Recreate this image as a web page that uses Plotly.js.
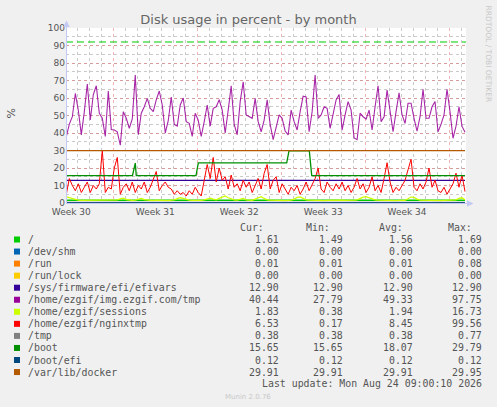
<!DOCTYPE html>
<html><head><meta charset="utf-8">
<script src="https://cdn.plot.ly/plotly-3.0.1.min.js"></script>
<style>html,body{margin:0;padding:0;background:#f0f0f0;}#chart{width:497px;height:407px;}</style>
</head><body><div id="chart"></div>
<script>
// ---------- data ----------
const seriesNames = ["/", "/dev/shm", "/run", "/run/lock", "/sys/firmware/efi/efivars",
  "/home/ezgif/img.ezgif.com/tmp", "/home/ezgif/sessions", "/home/ezgif/nginxtmp",
  "/tmp", "/boot", "/boot/efi", "/var/lib/docker"];
const seriesColors = ["#00CC00", "#0066B3", "#FF8000", "#FFCC00", "#330099", "#990099",
  "#CCFF00", "#FF0000", "#808080", "#008F00", "#00487D", "#B35A00"];
const curValues = [1.61, 0.00, 0.01, 0.00, 12.90, 40.44, 1.83, 6.53, 0.38, 15.65, 0.12, 29.91];
const minValues = [1.49, 0.00, 0.01, 0.00, 12.90, 27.79, 0.38, 0.17, 0.38, 15.65, 0.12, 29.91];
const avgValues = [1.56, 0.00, 0.01, 0.00, 12.90, 49.33, 1.94, 8.45, 0.38, 18.07, 0.12, 29.91];
const maxValues = [1.69, 0.00, 0.08, 0.00, 12.90, 97.75, 16.73, 99.56, 0.77, 29.79, 0.12, 29.95];

// 6-hourly samples starting 2026-07-23 02:00
const imgTmp = [37.9,45.1,49.3,62.6,53.0,38.9,52.2,68.0,47.4,62.0,67.0,51.3,48.4,38.0,64.0,42.0,41.7,40.7,33.0,52.2,
  48.4,42.7,48.0,73.1,39.0,51.3,55.0,59.8,54.1,52.2,58.9,64.0,56.0,40.0,47.0,60.6,44.9,43.9,56.0,60.0,
  46.5,45.5,38.1,51.3,47.4,38.0,46.5,56.0,43.9,54.1,55.0,59.0,53.1,40.0,53.1,67.0,44.9,39.0,57.9,69.3,
  50.3,49.3,48.4,59.8,46.5,40.7,47.4,58.9,44.9,36.2,43.9,50.3,48.4,41.1,38.9,53.1,46.5,41.7,52.2,61.0,
  60.6,40.7,52.2,73.1,48.4,50.3,55.0,54.1,42.7,50.3,58.9,62.0,41.7,50.3,57.9,53.1,37.2,36.2,51.3,49.3,
  48.0,53.1,41.7,55.0,67.0,46.5,49.3,64.5,52.2,40.7,52.2,63.0,50.3,45.5,57.0,57.0,48.4,41.0,49.3,65.0,
  48.4,48.4,55.0,58.0,40.7,44.9,50.3,65.0,52.2,37.0,43.9,55.0,43.9,40.4];
const nginxTmp = [5,14,10,7,11,6,9,12,6,10,8,11,30,6,9,8,20,26,5,9,
  11,7,12,6,10,8,12,6,9,13,18,7,10,12,9,8,5,7,5,6,
  4,7,5,9,6,4,14,22,14,26,12,20,13,15,8,16,9,11,7,13,
  9,12,6,10,14,8,17,22,8,13,15,6,11,8,5,9,7,10,5,8,
  12,7,11,14,20,8,6,12,9,7,11,8,12,7,10,6,9,14,8,11,
  6,9,15,7,10,6,14,23,12,6,9,7,10,13,19,25,9,7,11,8,
  12,20,9,13,7,6,9,5,8,11,17,9,16,6.53];
const sessions = [3.5,3.0,2.2,1.8,1.6,1.5,1.5,1.6,1.7,1.5,1.4,1.5,1.6,1.5,1.4,1.6,1.5,1.8,2.4,2.8,
  2.0,1.6,1.5,1.7,2.2,2.6,1.9,1.6,1.5,1.4,1.6,1.5,1.7,1.5,1.4,1.6,1.8,2.5,3.0,2.6,
  2.0,1.7,1.5,1.4,1.6,1.5,1.8,2.4,2.8,2.2,1.8,2.6,3.4,4.0,3.0,2.2,1.8,1.6,2.0,2.6,
  1.8,1.6,1.5,2.2,3.0,3.6,2.6,1.8,1.6,1.5,1.4,1.5,1.6,1.4,1.5,1.6,2.2,3.2,3.5,2.4,
  1.8,1.6,1.5,1.4,1.6,1.5,1.4,1.5,1.6,1.5,1.4,1.5,1.6,1.5,1.4,1.5,1.6,1.8,2.8,3.4,
  3.6,3.0,2.2,1.8,1.6,1.5,1.4,1.5,1.6,1.5,1.4,1.5,1.6,1.5,2.4,3.4,3.2,2.2,1.7,1.6,
  1.5,1.4,1.5,1.6,1.5,1.4,1.5,1.6,1.5,1.6,1.8,2.6,3.0,1.83];
// /boot: hours since first sample, values
const bootHours = [0, 132.4, 138.0, 140.0, 259.6, 264.2, 441.1, 445.7, 486.4, 491.2, 798];
const bootValues = [15.65, 15.65, 22.8, 15.65, 15.65, 22.9, 22.9, 29.79, 29.79, 15.65, 15.65];
const rootHours = [0, 798];
const rootValues = [1.55, 1.61];
const flatHours = [0, 798];
const devShm = [0.00, 0.00];
const runVals = [0.01, 0.01];
const runLock = [0.00, 0.00];
const efivars = [12.90, 12.90];
const tmpVals = [0.38, 0.38];
const bootEfi = [0.12, 0.12];
const docker = [29.91, 29.91];
const warningLevel = 92;
const weekLabels = ["Week 30", "Week 31", "Week 32", "Week 33", "Week 34"];
const weekMid = ["2026-07-23 12:00", "2026-07-30 12:00", "2026-08-06 12:00", "2026-08-13 12:00", "2026-08-20 12:00"];
const yTicks = [0,10,20,30,40,50,60,70,80,90,100];

// ---------- helpers ----------
const T0 = Date.UTC(2026, 6, 23, 2, 0, 0);
const STEP_H = 6;
function stamp(h) {
  const d = new Date(T0 + h * 3600000);
  const p = n => String(n).padStart(2, '0');
  return d.getUTCFullYear() + '-' + p(d.getUTCMonth() + 1) + '-' + p(d.getUTCDate()) + ' ' +
    p(d.getUTCHours()) + ':' + p(d.getUTCMinutes()) + ':' + p(d.getUTCSeconds());
}
const sampleTimes = imgTmp.map((_, k) => stamp(k * STEP_H));
const xRange = [stamp(-0.667), stamp(800.0)];
const W = 497, H = 407, L = 66, R = 31, T = 28, B = 204;
const PW = W - L - R, PH = H - T - B;
const px = x => (x - L) / PW;
const py = y => (T + PH - y) / PH;

function line(name, x, y, color, width, opacity) {
  return {type: 'scatter', mode: 'lines', name: name, x: x, y: y, opacity: opacity || 1,
    line: {color: color, width: width || 1.2}, hoverinfo: 'skip'};
}
const traces = [
  line(seriesNames[0], rootHours.map(stamp), rootValues, seriesColors[0], 1.4),
  line(seriesNames[1], flatHours.map(stamp), devShm, seriesColors[1]),
  line(seriesNames[2], flatHours.map(stamp), runVals, seriesColors[2]),
  line(seriesNames[3], flatHours.map(stamp), runLock, seriesColors[3]),
  line(seriesNames[4], flatHours.map(stamp), efivars, seriesColors[4]),
  line(seriesNames[5], sampleTimes, imgTmp, seriesColors[5], 1.1, 0.85),
  line(seriesNames[6], sampleTimes, sessions, seriesColors[6], 1.3),
  line(seriesNames[7], sampleTimes, nginxTmp, seriesColors[7], 1.0),
  line(seriesNames[8], flatHours.map(stamp), tmpVals, seriesColors[8]),
  line(seriesNames[9], bootHours.map(stamp), bootValues, seriesColors[9], 1.3),
  line(seriesNames[10], flatHours.map(stamp), bootEfi, seriesColors[10]),
  line(seriesNames[11], flatHours.map(stamp), docker, seriesColors[11], 1.3),
  {type: 'scatter', mode: 'lines', x: xRange, y: [warningLevel, warningLevel], xaxis: 'x2',
    line: {color: '#00CC00', width: 1.2, dash: '7px,4px'}, hoverinfo: 'skip'}
];

const legendFont = {family: 'DejaVu Sans Mono', size: 9.9, color: '#555555'};
const annotations = [];
const shapes = [];
const rowY0 = 239.5, rowStep = 12.05;
const colRight = [279.5, 344.2, 413.5, 482.8];
const headers = [["Cur:", 239.3], ["Min:", 305], ["Avg:", 378], ["Max:", 446.7]];
function ann(text, x, y, anchor, font, extra) {
  annotations.push(Object.assign({text: text, xref: 'paper', yref: 'paper', x: px(x), y: py(y),
    xanchor: anchor, yanchor: 'middle', showarrow: false, font: font, borderpad: 0}, extra || {}));
}
headers.forEach(h => ann(h[0], h[1], 227.8, 'left', legendFont));
seriesNames.forEach((n, i) => {
  const y = rowY0 + i * rowStep;
  shapes.push({type: 'rect', xref: 'paper', yref: 'paper', x0: px(14), x1: px(20), y0: py(y + 3), y1: py(y - 3),
    fillcolor: seriesColors[i], line: {width: 0}});
  ann(n, 26.5, y, 'left', legendFont);
  [curValues, minValues, avgValues, maxValues].forEach((arr, c) =>
    ann(arr[i].toFixed(2), colRight[c], y, 'right', legendFont));
});
ann("Last update: Mon Aug 24 09:00:10 2026", 482.8, 383.5, 'right', legendFont);
ann("Munin 2.0.76", 248, 396.5, 'center', {family: 'DejaVu Sans', size: 7, color: '#c8c8c8'});
ann("RRDTOOL / TOBI OETIKER", 488, 53.5, 'center', {family: 'DejaVu Sans', size: 7.5, color: '#c8c8c8'}, {textangle: 90});
ann("%", 10.5, 113, 'center', {family: 'DejaVu Sans', size: 11, color: '#555555'}, {textangle: -90});

// axes with arrows
const axisColor = '#c4c8f4';
shapes.push({type: 'line', xref: 'paper', yref: 'paper', x0: px(66.5), x1: px(66.5), y0: py(203.5), y1: py(22), line: {color: axisColor, width: 1}});
shapes.push({type: 'line', xref: 'paper', yref: 'paper', x0: px(66), x1: px(472), y0: py(203.5), y1: py(203.5), line: {color: axisColor, width: 1}});
shapes.push({type: 'path', xref: 'paper', yref: 'paper',
  path: `M ${px(66.5)} ${py(20.5)} L ${px(63.3)} ${py(27)} L ${px(69.7)} ${py(27)} Z`, fillcolor: axisColor, line: {width: 0}});
shapes.push({type: 'path', xref: 'paper', yref: 'paper',
  path: `M ${px(473.5)} ${py(203.5)} L ${px(467)} ${py(200.3)} L ${px(467)} ${py(206.7)} Z`, fillcolor: axisColor, line: {width: 0}});

const majorGrid = 'rgba(225,110,110,0.5)';
const minorGrid = 'rgba(150,150,150,0.5)';
const layout = {
  width: W, height: H,
  margin: {l: L, r: R, t: T, b: B, pad: 0},
  paper_bgcolor: '#f0f0f0', plot_bgcolor: '#ffffff',
  showlegend: false,
  font: {family: 'DejaVu Sans', size: 9, color: '#555555'},
  title: {text: 'Disk usage in percent - by month', x: 0.5, xanchor: 'center', xref: 'container',
    y: 1 - 19 / H, yanchor: 'middle', yref: 'container',
    font: {family: 'DejaVu Sans', size: 13, color: '#666666'}},
  xaxis: {type: 'date', range: xRange, showticklabels: false, ticks: '',
    tick0: '2026-07-27', dtick: 7 * 86400000,
    showgrid: true, gridcolor: majorGrid, griddash: 'dot', gridwidth: 1,
    minor: {tick0: '2026-07-27', dtick: 86400000, showgrid: true, gridcolor: minorGrid, griddash: 'dot', gridwidth: 1, ticks: ''},
    showline: false, zeroline: false, fixedrange: true},
  xaxis2: {type: 'date', range: xRange, overlaying: 'x', anchor: 'y', side: 'bottom',
    tickmode: 'array', tickvals: weekMid, ticktext: weekLabels, ticks: '',
    showgrid: false, showline: false, zeroline: false, ticklabelstandoff: 2,
    tickfont: {family: 'DejaVu Sans', size: 9, color: '#555555'}, fixedrange: true},
  yaxis: {range: [0, 100], tickmode: 'array', tickvals: yTicks, ticks: '',
    showgrid: true, gridcolor: majorGrid, griddash: 'dot', gridwidth: 1,
    minor: {dtick: 5, tick0: 0, showgrid: true, gridcolor: minorGrid, griddash: 'dot', gridwidth: 1, ticks: ''},
    showline: false, zeroline: false, fixedrange: true,
    tickfont: {family: 'DejaVu Sans', size: 9, color: '#555555'}},
  annotations: annotations,
  shapes: shapes
};
Plotly.newPlot('chart', traces, layout, {staticPlot: true, displayModeBar: false});
</script></body></html>
